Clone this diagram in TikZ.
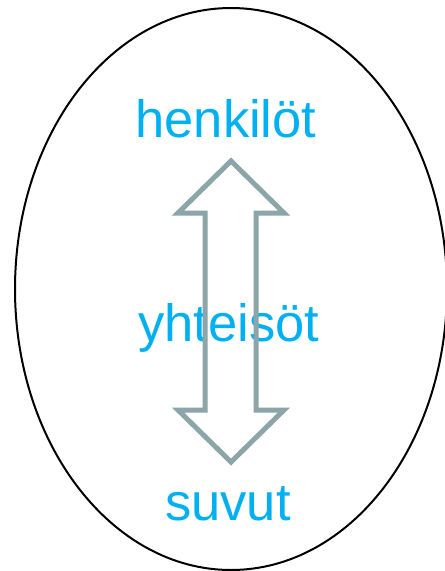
\documentclass[tikz,border=0pt]{standalone}
\usepackage{fontspec}
\setmainfont{Liberation Sans}
\usepackage{tikz}
\usetikzlibrary{positioning}

\definecolor{labelcyan}{RGB}{0,176,240}
\definecolor{arrowgray}{RGB}{140,165,168}

\tikzset{
    lbl/.style={anchor=base, inner sep=0pt, text=labelcyan, font=\fontsize{52.5}{60}\selectfont},
    blockarrow/.style={draw=arrowgray, line width=5pt, line join=miter}
}

\begin{document}
\begin{tikzpicture}[x=1pt, y=-1pt]

\clip (0,0) rectangle (445,571);
\useasboundingbox (0,0) rectangle (445,571);

\coordinate (c) at (231,289);
\draw[line width=2pt] (c) ellipse (216 and 281);

\node[lbl] (henkilot) at (226,137) {henkilöt};
\node[lbl] (yhteisot) at (229,341) {yhteisöt};
\node[lbl] (suvut)    at (228,520) {suvut};

% double arrow
\coordinate (0) at (231,161);
\coordinate (1) at (284,213);
\coordinate (2) at (256,213);
\coordinate (3) at (256,410);
\coordinate (4) at (284,410);
\coordinate (5) at (231,462);
\coordinate (6) at (178,410);
\coordinate (7) at (205,410);
\coordinate (8) at (205,213);
\coordinate (9) at (178,213);

\draw[blockarrow] (0) -- (1) -- (2) -- (3) -- (4) -- (5) -- (6) -- (7) -- (8) -- (9) -- cycle;

\end{tikzpicture}
\end{document}
